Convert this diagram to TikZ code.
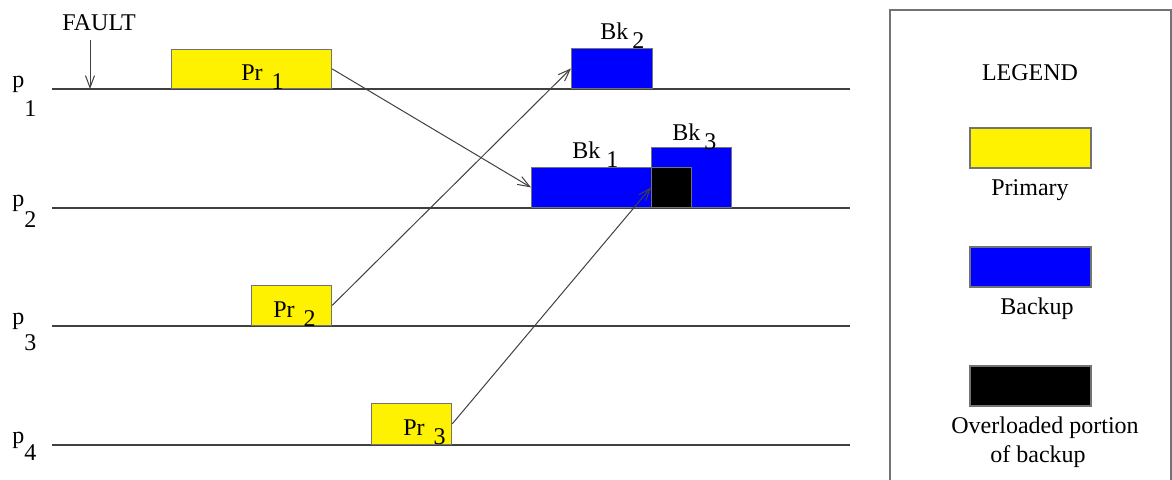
\documentclass[tikz,border=0pt]{standalone}
\usepackage{fontspec}
\setmainfont{Liberation Serif}
\usetikzlibrary{arrows.meta}

\newcommand{\tasklbl}[3]{#1\hspace{#2}\raisebox{-4.5pt}{#3}}
\definecolor{boxedge}{gray}{0.45}
\definecolor{lineedge}{gray}{0.25}

\tikzset{
  slot/.style={draw=boxedge, line width=0.6pt, inner sep=0pt, anchor=south west},
  prim/.style={slot, fill=yellow},
  bkup/.style={slot, fill=blue},
  over/.style={slot, fill=black},
  tline/.style={draw=lineedge, line width=0.6pt},
  msg/.style={draw=lineedge, line width=0.5pt, -{Straight Barb[length=6pt,width=4.5pt]}},
  txt/.style={inner sep=0pt, anchor=base west, font=\fontsize{12}{14}\selectfont}
}

\begin{document}
\begin{tikzpicture}[x=0.5pt, y=-0.5pt]
  \useasboundingbox (0,0) rectangle (1172,479);

  % processor lines
  \foreach \i/\y/\d in {1/89/14.5pt, 2/208/10.5pt, 3/326/13pt, 4/445/8.5pt} {
    \draw[tline] (52,\y) -- (850,\y);
    \node[txt] (p\i) at (12,\y-2) {p\raisebox{-\d}{\i}};
  }

  % fault
  \node[txt, anchor=base] (fault) at (99,30) {FAULT};
  \coordinate (ftop) at (90,40);
  \coordinate (fhit) at (90,89);
  \draw[msg] (ftop) -- (fhit);

  % primaries
  \node[prim, minimum width=80pt, minimum height=19.5pt] (pr1) at (171,89) {};
  \node[prim, minimum width=40pt, minimum height=20pt] (pr2) at (251,326) {};
  \node[prim, minimum width=40pt, minimum height=20.5pt] (pr3) at (371,445) {};

  % backups
  \node[bkup, minimum width=40.5pt, minimum height=20pt] (bk2) at (571,89) {};
  \node[bkup, minimum width=60pt, minimum height=20pt] (bk1) at (531,208) {};
  \node[bkup, minimum width=40pt, minimum height=30pt] (bk3) at (651,208) {};
  \node[over, minimum width=20pt, minimum height=20pt] (ovl) at (651,208) {};

  % labels
  \node[txt] (pr1lbl) at (241,80) {\tasklbl{Pr}{4.5pt}{1}};
  \node[txt] (pr2lbl) at (273,317) {\tasklbl{Pr}{4.5pt}{2}};
  \node[txt] (pr3lbl) at (403,435) {\tasklbl{Pr}{4.5pt}{3}};
  \node[txt] (bk1lbl) at (572,158) {\tasklbl{Bk}{3pt}{1}};
  \node[txt] (bk2lbl) at (600,39) {\tasklbl{Bk}{2pt}{2}};
  \node[txt] (bk3lbl) at (672,140) {\tasklbl{Bk}{2pt}{3}};

  % messages
  \draw[msg] (pr1.east) -- (bk1.west);
  \draw[msg] (pr2.east) -- (bk2.west);
  \draw[msg] (pr3.east) -- (ovl.west);

  % legend
  \draw[draw=boxedge, line width=0.6pt] (890,482) -- (890,10) -- (1171,10) -- (1171,482);
  \node[txt, anchor=base] (legtitle) at (1030,80) {LEGEND};
  \node[prim, anchor=center, minimum width=60.5pt, minimum height=20pt] (legprim) at (1030.5,148) {};
  \node[txt, anchor=base] (legprimlbl) at (1030,195) {Primary};
  \node[bkup, anchor=center, minimum width=60.5pt, minimum height=20pt] (legbk) at (1030.5,267) {};
  \node[txt, anchor=base] (legbklbl) at (1037,314) {Backup};
  \node[over, anchor=center, minimum width=60.5pt, minimum height=20pt] (legov) at (1030.5,386) {};
  \node[txt, anchor=base] (legovlbl1) at (1045,433) {Overloaded portion};
  \node[txt, anchor=base] (legovlbl2) at (1038,462) {of backup};
\end{tikzpicture}
\end{document}
